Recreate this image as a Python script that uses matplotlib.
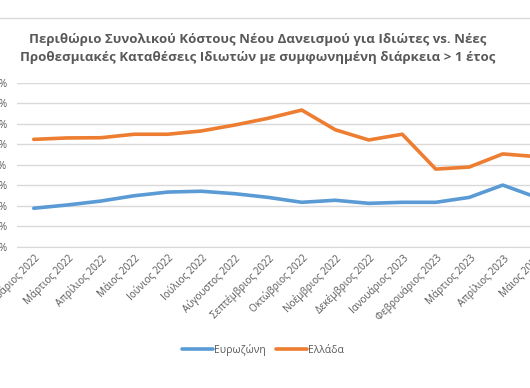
import matplotlib
matplotlib.use("Agg")
import matplotlib.pyplot as plt
from matplotlib.lines import Line2D
from matplotlib.ticker import FuncFormatter

plt.rcParams["font.family"] = ["Open Sans", "DejaVu Sans"]

MONTHS = ["Φεβρουάριος 2022", "Μάρτιος 2022", "Απρίλιος 2022", "Μάιος 2022",
          "Ιούνιος 2022", "Ιούλιος 2022", "Αύγουστος 2022", "Σεπτέμβριος 2022",
          "Οκτώβριος 2022", "Νοέμβριος 2022", "Δεκέμβριος 2022", "Ιανουάριος 2023",
          "Φεβρουάριος 2023", "Μάρτιος 2023", "Απρίλιος 2023", "Μάιος 2023"]
EUROZONE = [1.89, 2.05, 2.24, 2.50, 2.68, 2.72, 2.60, 2.42,
            2.18, 2.28, 2.13, 2.18, 2.18, 2.42, 3.02, 2.43]
GREECE = [5.25, 5.32, 5.33, 5.50, 5.50, 5.66, 5.95, 6.28,
          6.68, 5.72, 5.22, 5.50, 3.80, 3.90, 4.54, 4.41]

C_EZ = "#5B9BD5"
C_GR = "#ED7D31"
C_TXT = "#595959"
C_GRID = "#d9d9d9"

W, H = 530, 388
fig = plt.figure(figsize=(W / 100, H / 100), dpi=100)

# chart area border (top edge is visible in the crop)
fig.add_artist(Line2D([0, 1], [1 - 18 / H, 1 - 18 / H], transform=fig.transFigure,
                      color=C_GRID, lw=1))

ax = fig.add_axes([17 / W, 1 - 247 / H, 536 / W, 164 / H])
x = list(range(len(MONTHS)))
ax.plot(x, EUROZONE, color=C_EZ, lw=2.6, label="Ευρωζώνη", solid_capstyle="round")
ax.plot(x, GREECE, color=C_GR, lw=2.6, label="Ελλάδα", solid_capstyle="round")

ax.set_xlim(-0.5, len(MONTHS) - 0.5)
ax.set_ylim(0, 8)
ax.set_yticks(range(0, 9))
ax.yaxis.set_major_formatter(FuncFormatter(lambda v, p: f"{v:.2f}%".replace(".", ",")))
ax.grid(True, axis="y", color=C_GRID, lw=1)
ax.set_axisbelow(True)
for s in ["top", "right", "left"]:
    ax.spines[s].set_visible(False)
ax.spines["bottom"].set_color(C_GRID)
ax.tick_params(axis="both", length=0, colors=C_TXT, labelsize=7.2)
ax.tick_params(axis="y", pad=7)
ax.set_xticks(x)
ax.set_xticklabels(MONTHS, rotation=45, ha="right", va="top", rotation_mode="anchor")
ax.tick_params(axis="x", pad=4)

fig.text(258 / W, 1 - 40 / H,
         "Περιθώριο Συνολικού Κόστους Νέου Δανεισμού για Ιδιώτες vs. Νέες",
         ha="center", va="center", fontsize=9.5, fontweight="bold", color=C_TXT)
fig.text(258 / W, 1 - 58 / H,
         "Προθεσμιακές Καταθέσεις Ιδιωτών με συμφωνημένη διάρκεια > 1 έτος",
         ha="center", va="center", fontsize=9.5, fontweight="bold", color=C_TXT)

fig.legend(loc="center", bbox_to_anchor=(263 / W, 1 - 350 / H), ncol=2, frameon=False,
           fontsize=7.5, labelcolor=C_TXT, handlelength=3, handletextpad=0.1,
           columnspacing=1.0)

fig.savefig("out.png", dpi=100)
